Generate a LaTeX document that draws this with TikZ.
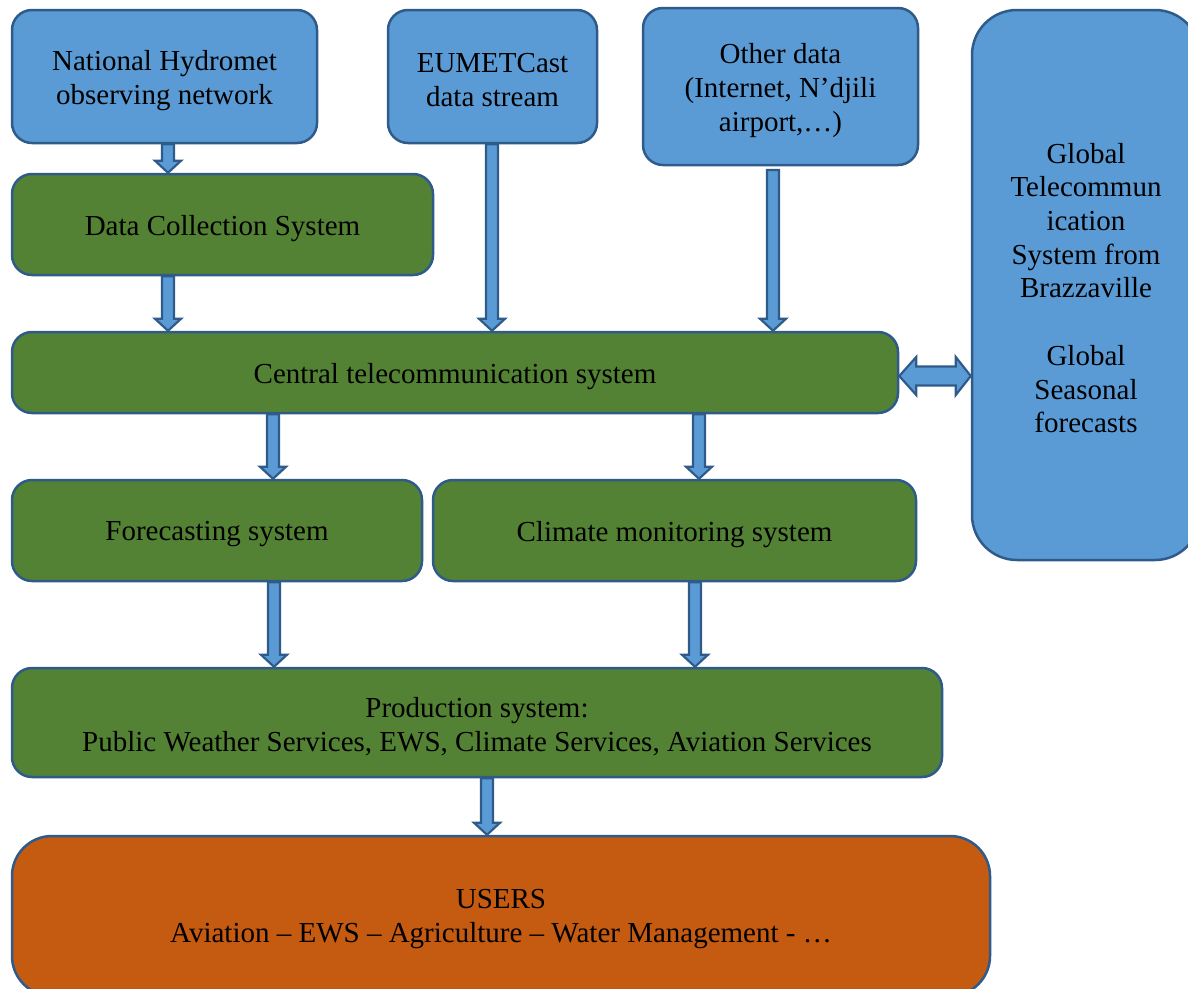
\documentclass[tikz,border=0pt]{standalone}
\usepackage{fontspec}
\setmainfont{Liberation Serif}
\usetikzlibrary{calc}
\definecolor{boxblue}{HTML}{5B9BD5}
\definecolor{boxgreen}{HTML}{548235}
\definecolor{boxorange}{HTML}{C55A11}
\definecolor{edgeblue}{HTML}{2F5B8A}
\tikzset{
  box/.style={draw=edgeblue, line width=2.5pt, rounded corners=20pt, inner sep=0pt},
  lab/.style={align=center, inner sep=0pt, yshift=-4pt, font=\fontsize{29}{34}\selectfont},
  bluebox/.style={box, fill=boxblue},
  greenbox/.style={box, fill=boxgreen},
  orangebox/.style={box, fill=boxorange},
  barrow/.style={draw=edgeblue, fill=boxblue, line width=2.2pt, line join=miter},
}
\newcommand\bdown[2]{\draw[barrow] let \p1=#1, \p2=#2 in
  (\x1-6,\y1) -- (\x1-6,\y2+12) -- (\x1-13,\y2+12) -- (\x1,\y2) -- (\x1+13,\y2+12)
  -- (\x1+6,\y2+12) -- (\x1+6,\y1) -- cycle;}
\begin{document}
\begin{tikzpicture}[x=1pt,y=-1pt]
\useasboundingbox (0,0) rectangle (1188,988);
\begin{scope}
\clip (0,0) rectangle (1188,988);
\node[bluebox, minimum width=305pt, minimum height=133pt, label={[lab]center:{National Hydromet\\observing network}}] (nat) at (164.5,76.5) {};
\node[bluebox, minimum width=209pt, minimum height=133pt, label={[lab]center:{EUMETCast\\data stream}}] (eum) at (492.5,76.5) {};
\node[bluebox, minimum width=275pt, minimum height=157pt, label={[lab]center:{Other data\\(Internet, N’djili\\airport,…)}}] (oth) at (780.5,86.5) {};
\node[bluebox, rounded corners=45pt, minimum width=228pt, minimum height=550pt, label={[lab, yshift=1pt, font=\fontsize{29}{33.7}\selectfont]center:{Global\\Telecommun\\ication\\System from\\Brazzaville\\[33.7pt]Global\\Seasonal\\forecasts}}] (glob) at (1086,285) {};
\node[greenbox, minimum width=421pt, minimum height=101pt, label={[lab]center:{Data Collection System}}] (dcs) at (222.5,224.5) {};
\node[greenbox, minimum width=886pt, minimum height=81pt, label={[lab]center:{Central telecommunication system}}] (cts) at (455,372.5) {};
\node[greenbox, minimum width=410pt, minimum height=101pt, label={[lab]center:{Forecasting system}}] (fcs) at (217,530.5) {};
\node[greenbox, minimum width=483pt, minimum height=101pt, label={[lab]center:{Climate monitoring system}}] (cms) at (674.5,530.5) {};
\node[greenbox, minimum width=930pt, minimum height=109pt, label={[lab]center:{Production system:\\Public Weather Services, EWS, Climate Services, Aviation Services}}] (prod) at (477,722.5) {};
\node[orangebox, rounded corners=40pt, minimum width=978pt, minimum height=160pt, label={[lab, yshift=1pt]center:{USERS\\Aviation – EWS – Agriculture – Water Management - …}}] (users) at (501,916) {};
\end{scope}
\coordinate (xa) at (168,0);
\coordinate (xb) at (492,0);
\coordinate (xc) at (773,0);
\coordinate (xd) at (273,0);
\coordinate (xe) at (699,0);
\coordinate (xf) at (274,0);
\coordinate (xg) at (695,0);
\coordinate (xh) at (487,0);
\coordinate (yd) at (0,376);
\bdown{(nat.south -| xa)}{(dcs.north -| xa)}
\bdown{(dcs.south -| xa)}{(cts.north -| xa)}
\bdown{(eum.south -| xb)}{(cts.north -| xb)}
\coordinate (otop) at (773,170);
\bdown{(otop)}{(cts.north -| xc)}
\bdown{(cts.south -| xd)}{(fcs.north -| xd)}
\bdown{(cts.south -| xe)}{(cms.north -| xe)}
\bdown{(fcs.south -| xf)}{(prod.north -| xf)}
\bdown{(cms.south -| xg)}{(prod.north -| xg)}
\bdown{(prod.south -| xh)}{(users.north -| xh)}
\draw[barrow] let \p1=(cts.east |- yd), \p2=(glob.west |- yd) in
  (\x1,\y1) -- (\x1+17,\y1+19) -- (\x1+17,\y1+9.5) -- (\x2-15,\y1+9.5) -- (\x2-15,\y1+19)
  -- (\x2,\y1) -- (\x2-15,\y1-19) -- (\x2-15,\y1-9.5) -- (\x1+17,\y1-9.5) -- (\x1+17,\y1-19) -- cycle;
\end{tikzpicture}
\end{document}
